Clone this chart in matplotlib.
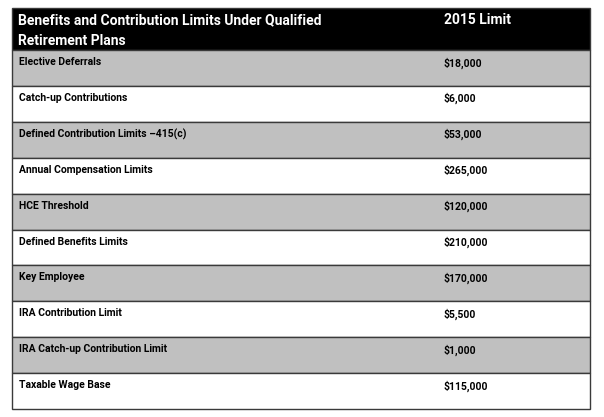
import matplotlib.pyplot as plt
from matplotlib.patches import Rectangle

plt.rcParams['font.family'] = ['Roboto', 'DejaVu Sans']

header = ["Benefits and Contribution Limits Under Qualified\nRetirement Plans", "2015 Limit"]
items = ["Elective Deferrals", "Catch-up Contributions", "Defined Contribution Limits \u2013415(c)",
         "Annual Compensation Limits", "HCE Threshold", "Defined Benefits Limits",
         "Key Employee", "IRA Contribution Limit", "IRA Catch-up Contribution Limit",
         "Taxable Wage Base"]
limits = ["$18,000", "$6,000", "$53,000", "$265,000", "$120,000", "$210,000",
          "$170,000", "$5,500", "$1,000", "$115,000"]

W, H = 604, 417
fig = plt.figure(figsize=(W / 100, H / 100), dpi=100)
ax = fig.add_axes([0, 0, 1, 1])
ax.set_xlim(0, W)
ax.set_ylim(H, 0)
ax.axis("off")

left, right = 12, 590
top, head_bot = 8, 50
row_h = 35.9
col2 = 444
edge = "#3a3a3a"

# header
ax.add_patch(Rectangle((left, top), right - left, head_bot - top, facecolor="black",
                       edgecolor=edge, lw=1))
ax.text(left + 6, top + 5, header[0], color="white", fontsize=10, fontweight="bold",
        va="top", ha="left", linespacing=1.6)
ax.text(col2, top + 5, header[1], color="white", fontsize=10, fontweight="bold",
        va="top", ha="left")

for i, (name, val) in enumerate(zip(items, limits)):
    y0 = head_bot + i * row_h
    fc = "#c0c0c0" if i % 2 == 0 else "white"
    ax.add_patch(Rectangle((left, y0), right - left, row_h, facecolor=fc,
                           edgecolor=edge, lw=1))
    ax.text(left + 7, y0 + 7, name, fontsize=7.5, fontweight="bold", va="top", ha="left")
    ax.text(col2, y0 + 7, val, fontsize=7.5, fontweight="bold", va="top", ha="left")

fig.savefig("out.png", dpi=100)
